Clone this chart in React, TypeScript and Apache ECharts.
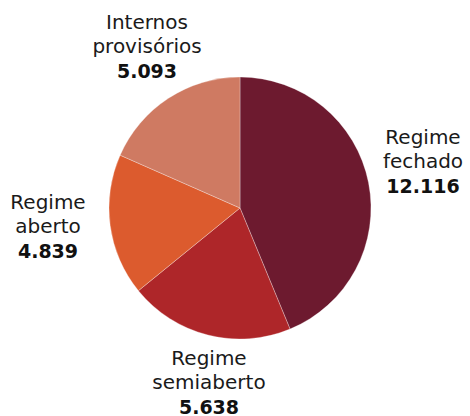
import React, { useEffect, useRef } from "react";
import * as echarts from "echarts";

const categories = ["Regime\nfechado", "Regime\nsemiaberto", "Regime\naberto", "Internos\nprovisórios"];
const values = [12116, 5638, 4839, 5093];
const colors = ["#6d1a2f", "#ae2629", "#dc5b2e", "#cf7a62"];
const labelSpots = [
  [423, 161],
  [209, 382],
  [48, 226],
  [147, 46],
];

const fmt = (v: number) => v.toLocaleString("pt-BR");

export default function App() {
  const ref = useRef<HTMLDivElement>(null);
  useEffect(() => {
    document.body.style.margin = "0";
    const chart = echarts.init(ref.current!, null, { renderer: "svg" });
    const font = "'DejaVu Sans', sans-serif";
    chart.setOption({
      animation: false,
      backgroundColor: "#ffffff",
      series: [
        {
          type: "pie",
          center: [240, 208],
          radius: 131,
          startAngle: 90,
          clockwise: true,
          itemStyle: { borderColor: "rgba(255,255,255,0.6)", borderWidth: 0.5 },
          labelLine: { show: false },
          label: {
            show: true,
            overflow: "none",
            formatter: (p: any) => `{n|${p.name}}\n{v|${fmt(p.value)}}`,
            rich: {
              n: { fontFamily: font, fontSize: 20, lineHeight: 24.5, color: "#1a1a1a", align: "center" },
              v: { fontFamily: font, fontSize: 19, lineHeight: 24.5, fontWeight: "bold", color: "#111111", align: "center" },
            },
          },
          labelLayout: (p: any) => ({
            x: labelSpots[p.dataIndex][0],
            y: labelSpots[p.dataIndex][1],
            align: "center",
            verticalAlign: "middle",
          }),
          data: categories.map((c, i) => ({ name: c, value: values[i], itemStyle: { color: colors[i] } })),
        },
      ],
    });
    return () => chart.dispose();
  }, []);
  return <div ref={ref} style={{ width: 470, height: 416 }} />;
}
